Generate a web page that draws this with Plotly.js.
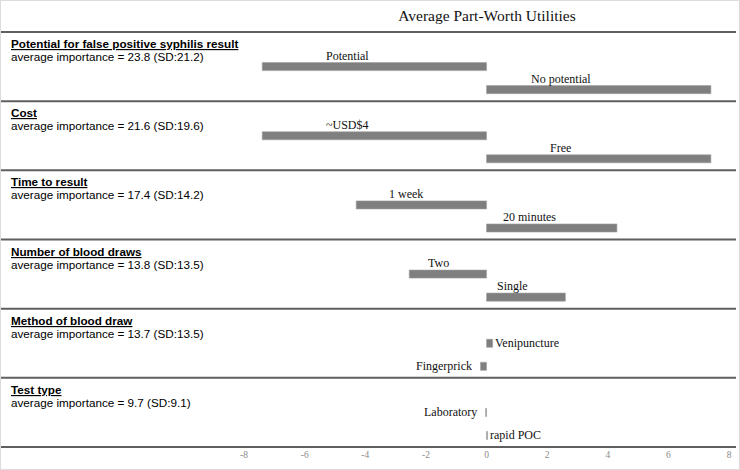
<!DOCTYPE html>
<html>
<head>
<meta charset="utf-8">
<script src="https://cdn.plot.ly/plotly-3.0.1.min.js"></script>
<style>
  html, body { margin: 0; padding: 0; background: #fff; }
  #chart { width: 740px; height: 470px; position: relative; }
  #frame { position: absolute; left: 0; top: 0; width: 738px; height: 468px; border: 1px solid #dcdcdc; pointer-events: none; }
</style>
</head>
<body>
<div id="chart"></div>
<div id="frame"></div>
<script>
// ---- data ----
const attributes = [
  "Potential for false positive syphilis result",
  "Cost",
  "Time to result",
  "Number of blood draws",
  "Method of blood draw",
  "Test type"
];
const importance = [23.8, 21.6, 17.4, 13.8, 13.7, 9.7];
const importanceSD = [21.2, 19.6, 14.2, 13.5, 13.5, 9.1];
const levelA = ["Potential", "~USD$4", "1 week", "Two", "Venipuncture", "Laboratory"];
const utilA = [-7.4, -7.4, -4.3, -2.55, 0.2, -0.03];
const levelB = ["No potential", "Free", "20 minutes", "Single", "Fingerprick", "rapid POC"];
const utilB = [7.4, 7.4, 4.3, 2.6, -0.2, 0.03];
const tickValues = [-8, -6, -4, -2, 0, 2, 4, 6, 8];
const chartTitle = "Average Part-Worth Utilities";

// ---- build ----
const serif = "Liberation Serif, Times New Roman, serif";
const sans = "Liberation Sans, Arial, sans-serif";

const cats = [];
const levels = [];
const utils = [];
attributes.forEach((a, i) => {
  cats.push(a, levelA[i], levelB[i]);
  levels.push(levelA[i], levelB[i]);
  utils.push(utilA[i], utilB[i]);
});

const trace = {
  type: "bar",
  orientation: "h",
  x: utils,
  y: levels,
  width: 0.35,
  marker: { color: "#7f7f7f", line: { width: 0.6, color: "#a0a0a0" } },
  hoverinfo: "skip",
  showlegend: false
};

const annotations = [];
levels.forEach((lv, k) => {
  const v = utils[k];
  if (Math.abs(v) >= 1) {
    annotations.push({
      x: v * (v < 0 ? 0.62 : 0.33), y: lv, xref: "x", yref: "y",
      text: lv, showarrow: false, xanchor: "center", yanchor: "middle",
      yshift: 11, font: { family: serif, size: 12, color: "#111" }
    });
  } else {
    annotations.push({
      x: v, y: lv, xref: "x", yref: "y",
      text: lv, showarrow: false,
      xanchor: v > 0 ? "left" : "right", yanchor: "middle",
      xshift: v > 0 ? 0.5 : -7, font: { family: serif, size: 12, color: "#111" }
    });
  }
});
attributes.forEach((a, i) => {
  annotations.push({
    x: 9 / 740, xref: "paper", y: a, yref: "y",
    text: "<b><span style='text-decoration:underline'>" + a + "</span></b>",
    showarrow: false, xanchor: "left", yanchor: "middle",
    font: { family: sans, size: 11.7, color: "#000" }
  });
  annotations.push({
    x: 9 / 740, xref: "paper", y: a, yref: "y", yshift: -13,
    text: "average importance = " + importance[i] + " (SD:" + importanceSD[i] + ")",
    showarrow: false, xanchor: "left", yanchor: "middle",
    font: { family: sans, size: 11.7, color: "#000" }
  });
});

const shapes = [];
for (let i = 0; i <= attributes.length; i++) {
  shapes.push({
    type: "line", xref: "paper", yref: "paper",
    x0: 0, x1: 736 / 740, y0: 1 - i / attributes.length, y1: 1 - i / attributes.length,
    line: { color: "#5f5f5f", width: 2 }
  });
}

const layout = {
  width: 740, height: 470,
  margin: { l: 0, r: 0, t: 32, b: 23, pad: 0 },
  paper_bgcolor: "#fff", plot_bgcolor: "#fff",
  title: {
    text: chartTitle, x: 487 / 740, xanchor: "center", xref: "paper",
    y: 1 - 16 / 470, yanchor: "middle", yref: "container",
    font: { family: serif, size: 15.5, color: "#111" }
  },
  xaxis: {
    range: [-16.05, 8.36], tickvals: tickValues, ticktext: tickValues.map(String),
    showgrid: false, zeroline: false, showline: false, ticks: "",
    tickfont: { family: serif, size: 9.5, color: "#8a8a8a" }, fixedrange: true
  },
  yaxis: {
    type: "category", categoryorder: "array", categoryarray: cats,
    range: [cats.length - 0.5, -0.5],
    showticklabels: false, showgrid: false, zeroline: false, showline: false, ticks: "",
    fixedrange: true
  },
  bargap: 0,
  annotations: annotations,
  shapes: shapes,
  showlegend: false
};

Plotly.newPlot("chart", [trace], layout, { displayModeBar: false, staticPlot: true });
</script>
</body>
</html>
